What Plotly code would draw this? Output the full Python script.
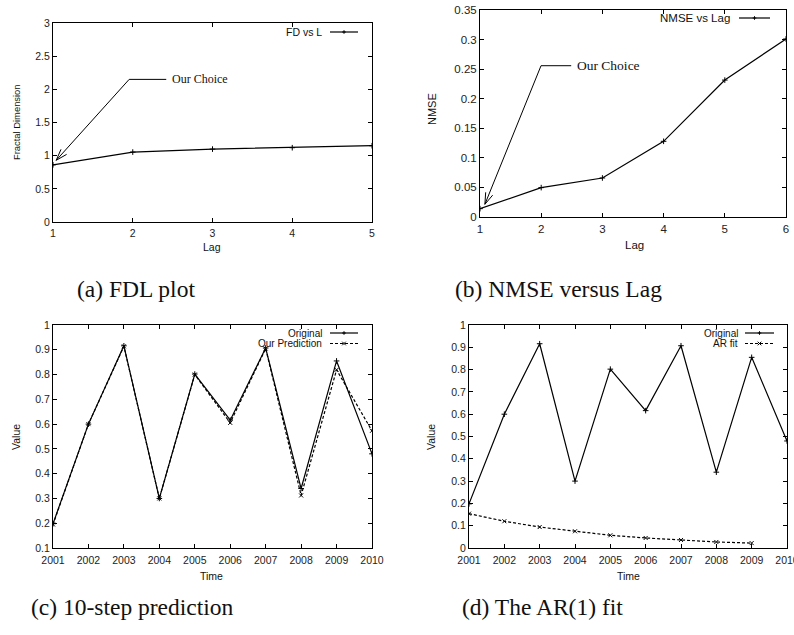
import plotly.graph_objects as go
import math

W, H = 794, 635

# ---------------- data ----------------
fd_lag = [1, 2, 3, 4, 5]
fd_values = [0.862, 1.054, 1.099, 1.12, 1.15]

nmse_lag = [1, 2, 3, 4, 5, 6]
nmse_values = [0.0141, 0.0497, 0.066, 0.128, 0.2315, 0.301]

years = [2001, 2002, 2003, 2004, 2005, 2006, 2007, 2008, 2009, 2010]
original = [0.198, 0.6, 0.916, 0.3, 0.802, 0.616, 0.907, 0.34, 0.855, 0.48]
our_prediction = [0.195, 0.6, 0.914, 0.3, 0.8, 0.605, 0.905, 0.312, 0.819, 0.573]

ar_years = [2001, 2002, 2003, 2004, 2005, 2006, 2007, 2008, 2009]
ar_fit = [0.154, 0.12, 0.094, 0.075, 0.057, 0.045, 0.036, 0.027, 0.022]

captions = ["(a) FDL plot", "(b) NMSE versus Lag", "(c) 10-step prediction", "(d) The AR(1) fit"]

# ---------------- layout helpers ----------------
def px_x(x):
    return x / W

def px_y(y):
    return 1 - y / H

SANS = "Liberation Sans, Arial, sans-serif"
SERIF = "Liberation Serif, Times New Roman, serif"

fig = go.Figure()

line_solid = dict(color="black", width=1.2)
line_dash = dict(color="black", width=1.2, dash="3px,2px")
mk_plus = dict(symbol="cross-thin", size=4, line=dict(color="black", width=1))
mk_x = dict(symbol="x-thin", size=4, line=dict(color="black", width=1))

fig.add_trace(go.Scatter(x=fd_lag, y=fd_values, mode="lines+markers", line=line_solid,
                         marker=mk_plus, xaxis="x", yaxis="y", name="FD vs L"))
fig.add_trace(go.Scatter(x=nmse_lag, y=nmse_values, mode="lines+markers", line=line_solid,
                         marker=mk_plus, xaxis="x2", yaxis="y2", name="NMSE vs Lag"))
fig.add_trace(go.Scatter(x=years, y=original, mode="lines+markers", line=line_solid,
                         marker=mk_plus, xaxis="x3", yaxis="y3", name="Original"))
fig.add_trace(go.Scatter(x=years, y=our_prediction, mode="lines+markers", line=line_dash,
                         marker=mk_x, xaxis="x3", yaxis="y3", name="Our Prediction"))
fig.add_trace(go.Scatter(x=years, y=original, mode="lines+markers", line=line_solid,
                         marker=mk_plus, xaxis="x4", yaxis="y4", name="Original"))
fig.add_trace(go.Scatter(x=ar_years, y=ar_fit, mode="lines+markers", line=line_dash,
                         marker=mk_x, xaxis="x4", yaxis="y4", name="AR fit"))

def axis(domain, rng, dtick, anchor, fsize, standoff=0):
    return dict(domain=domain, range=rng, dtick=dtick, tick0=rng[0], anchor=anchor,
                showline=True, linecolor="black", linewidth=1, mirror="allticks",
                ticks="inside", ticklen=4, tickcolor="black", tickwidth=1,
                showgrid=False, zeroline=False, fixedrange=True, automargin=False,
                ticklabeloverflow="allow", ticklabelstandoff=standoff,
                tickfont=dict(family=SANS, size=fsize, color="#222"))

# panel pixel boxes (left, right, top, bottom)
boxes = {
    "a": (53, 372, 23, 222),
    "b": (480, 786, 10, 217),
    "c": (53, 372, 325, 548),
    "d": (469, 787, 325, 548),
}

def dom(b):
    l, r, t, bt = b
    return [px_x(l), px_x(r)], [px_y(bt), px_y(t)]

xa, ya = dom(boxes["a"]); xb, yb = dom(boxes["b"]); xc, yc = dom(boxes["c"]); xd, yd = dom(boxes["d"])

fig.update_layout(
    template="none",
    width=W, height=H, margin=dict(l=0, r=0, t=0, b=0, pad=0, autoexpand=False),
    paper_bgcolor="white", plot_bgcolor="white", showlegend=False,
    xaxis=axis(xa, [1, 5], 1, "y", 10.5, 1), yaxis=axis(ya, [0, 3], 0.5, "x", 10.5),
    xaxis2=axis(xb, [1, 6], 1, "y2", 11.5, 1), yaxis2=axis(yb, [0, 0.35], 0.05, "x2", 11.5),
    xaxis3=axis(xc, [2001, 2010], 1, "y3", 10.5, 2), yaxis3=axis(yc, [0.1, 1], 0.1, "x3", 10.5),
    xaxis4=axis(xd, [2001, 2010], 1, "y4", 10.5, 2), yaxis4=axis(yd, [0, 1], 0.1, "x4", 10.5),
)

ann = []
shapes = []

def text(x, y, s, size, family=SANS, xanchor="center", angle=0):
    ann.append(dict(x=px_x(x), y=px_y(y), xref="paper", yref="paper", text=s, showarrow=False,
                    xanchor=xanchor, yanchor="middle", textangle=angle,
                    font=dict(family=family, size=size, color="#111")))

# axis titles
text(212, 247, "Lag", 10.5)
text(17, 122, "Fractal Dimension", 9.4, angle=-90)
text(634, 245, "Lag", 11.5)
text(432, 109, "NMSE", 11, angle=-90)
text(212, 576, "Time", 10.5)
text(16, 437, "Value", 10.5, angle=-90)
text(628, 576, "Time", 10.5)
text(431, 437, "Value", 10.5, angle=-90)

# captions
text(136, 289, captions[0], 23.5, SERIF)
text(558, 289, captions[1], 23.5, SERIF)
text(132, 607, captions[2], 23.5, SERIF)
text(542, 607, captions[3], 23.5, SERIF)

def seg(x0, y0, x1, y1, width=1, dash="solid"):
    shapes.append(dict(type="line", xref="paper", yref="paper", x0=px_x(x0), x1=px_x(x1),
                       y0=px_y(y0), y1=px_y(y1), line=dict(color="black", width=width, dash=dash)))

# legends (gnuplot style: label then sample)
def legend_entry(xr, y, label, x1, x2, size, dashed=False, mk="+"):
    text(xr, y, label, size, xanchor="right")
    seg(x1, y, x2, y, 1.2, "3px,2px" if dashed else "solid")
    cx = (x1 + x2) / 2
    d = 1.8
    if mk == "+":
        seg(cx - d, y, cx + d, y); seg(cx, y - d, cx, y + d)
    else:
        seg(cx - d, y - d, cx + d, y + d); seg(cx - d, y + d, cx + d, y - d)

legend_entry(324, 32, "FD vs L", 330, 358, 10.5)
legend_entry(732, 18, "NMSE vs Lag", 739, 770, 11.5)
legend_entry(324, 333, "Original", 330, 358, 10)
legend_entry(324, 343.5, "Our Prediction", 330, 358, 10, dashed=True, mk="x")
legend_entry(740, 333, "Original", 745, 774, 10)
legend_entry(740, 343.5, "AR fit", 745, 774, 10, dashed=True, mk="x")

# "Our Choice" arrows, built in pixel space from the axis ranges
def to_px(box, xr, yr, x, y):
    l, r, t, b = box
    return (l + (x - xr[0]) / (xr[1] - xr[0]) * (r - l),
            b - (y - yr[0]) / (yr[1] - yr[0]) * (b - t))

def choice(box, xr, yr, tip, elbow, end, txt_x, size):
    tx, ty = to_px(box, xr, yr, *tip)
    ex, ey = to_px(box, xr, yr, *elbow)
    nx, _ = to_px(box, xr, yr, end, elbow[1])
    txx, _ = to_px(box, xr, yr, txt_x, elbow[1])
    seg(ex, ey, tx, ty)
    seg(ex, ey, nx, ey)
    ang = math.atan2(ey - ty, ex - tx)
    L = 12
    for da in (0.32, -0.32):
        seg(tx, ty, tx + L * math.cos(ang + da), ty + L * math.sin(ang + da))
    text(txx, ey, "Our Choice", size, SERIF, xanchor="left")

choice(boxes["a"], [1, 5], [0, 3], (1.04, 0.93), (1.955, 2.15), 2.42, 2.47, 12)
choice(boxes["b"], [1, 6], [0, 0.35], (1.08, 0.0215), (1.997, 0.2558), 2.49, 2.56, 13.5)

fig.update_layout(annotations=ann, shapes=shapes)
fig.write_html("out.html", config={"displayModeBar": False},
               post_script="document.body.style.margin='0';document.body.style.overflow='hidden';")
